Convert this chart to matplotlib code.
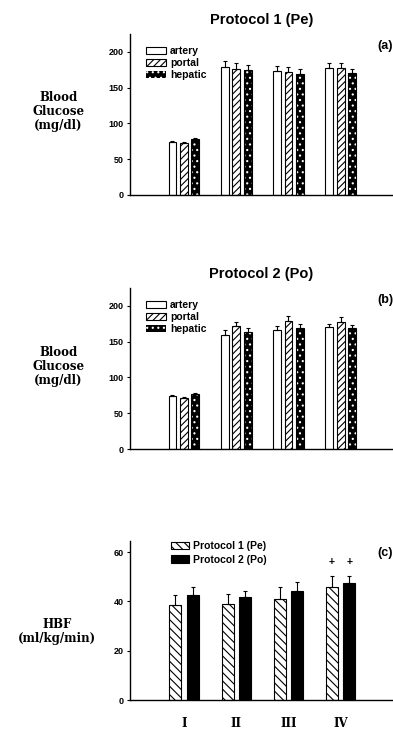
import matplotlib
matplotlib.use("Agg")
import matplotlib.pyplot as plt
import matplotlib.patches as mpatches
import numpy as np

# blood glucose, protocol 1 (Pe)
groups = [1, 2, 3, 4]
pe_artery = [74, 179, 173, 177]
pe_artery_err = [2, 8, 7, 7]
pe_portal = [73, 176, 172, 177]
pe_portal_err = [1, 8, 7, 7]
pe_hepatic = [78, 175, 169, 170]
pe_hepatic_err = [2, 7, 7, 6]

# blood glucose, protocol 2 (Po)
po_artery = [74, 159, 166, 170]
po_artery_err = [1, 7, 6, 5]
po_portal = [72, 172, 179, 177]
po_portal_err = [1, 6, 7, 7]
po_hepatic = [77, 163, 169, 169]
po_hepatic_err = [1, 6, 6, 4]

# hepatic blood flow
period_labels = ["I", "II", "III", "IV"]
hbf_pe = [38.6, 38.9, 41.1, 45.8]
hbf_pe_err = [4.1, 4.2, 4.6, 4.3]
hbf_po = [42.7, 41.6, 44.4, 47.4]
hbf_po_err = [3.0, 2.8, 3.3, 3.0]
plus_groups = [4]
plus_y = 55.8

sans = "Liberation Sans"
serif = "DejaVu Serif"
plt.rcParams["hatch.linewidth"] = 0.8

fig = plt.figure(figsize=(3.93, 7.33), dpi=100)
ax_a = fig.add_axes([0.331, 0.734, 0.669, 0.2197])
ax_b = fig.add_axes([0.331, 0.3874, 0.669, 0.2197])
ax_c = fig.add_axes([0.331, 0.045, 0.669, 0.217])

w = 0.15
step = 0.22
ekw = dict(lw=0.8, capsize=1.5, capthick=0.8, ecolor="black")


def glucose_panel(ax, art, art_e, por, por_e, hep, hep_e, title, tag, ylab_y):
    x = np.array(groups, dtype=float)
    ax.bar(x - step, art, w, color="white", edgecolor="black", lw=0.8)
    ax.errorbar(x - step, art, yerr=[np.zeros(4), art_e], fmt="none", **ekw)
    ax.bar(x, por, w, color="white", edgecolor="black", lw=0.8,
           hatch="/////")
    ax.errorbar(x, por, yerr=[np.zeros(4), por_e], fmt="none", **ekw)
    # dark dotted fill: white dots on black, then black outline on top
    ax.bar(x + step, hep, w, color="black", edgecolor="white", lw=0,
           hatch="...")
    ax.bar(x + step, hep, w, fill=False, edgecolor="black", lw=0.8)
    ax.errorbar(x + step, hep, yerr=[np.zeros(4), hep_e], fmt="none", **ekw)

    h1 = mpatches.Patch(facecolor="white", edgecolor="black", lw=0.8)
    h2 = mpatches.Patch(facecolor="white", edgecolor="black", lw=0.8,
                        hatch="/////")
    h3 = mpatches.Patch(facecolor="black", edgecolor="white", lw=0.0,
                        hatch="...")
    ax.legend([h1, h2, h3], ["artery", "portal", "hepatic"],
              loc="upper left", bbox_to_anchor=(0.06, 0.925), frameon=False,
              prop={"family": sans, "weight": "bold", "size": 7.5},
              handlelength=1.9, handleheight=0.7, labelspacing=0.2,
              handletextpad=0.4, borderaxespad=0, borderpad=0)
    ax.set_ylim(0, 225)
    ax.set_yticks([0, 50, 100, 150, 200])
    ax.set_xlim(-0.03, 5.0)
    ax.set_xticks([])
    ax.set_title(title, family=sans, weight="bold", fontsize=10.5, pad=7)
    ax.text(0.94, 0.925, tag, transform=ax.transAxes, family=sans,
            weight="bold", fontsize=9, ha="left", va="center")
    ax.text(-0.272, ylab_y, "Blood\nGlucose\n(mg/dl)", transform=ax.transAxes,
            family=serif, weight="bold", fontsize=8.5, ha="center",
            va="center", linespacing=1.1)


glucose_panel(ax_a, pe_artery, pe_artery_err, pe_portal, pe_portal_err,
              pe_hepatic, pe_hepatic_err, "Protocol 1 (Pe)", "(a)", 0.52)
glucose_panel(ax_b, po_artery, po_artery_err, po_portal, po_portal_err,
              po_hepatic, po_hepatic_err, "Protocol 2 (Po)", "(b)", 0.515)

# panel c
xc = np.array(groups, dtype=float)
wc = 0.23
off = 0.165
ax_c.bar(xc - off, hbf_pe, wc, color="white", edgecolor="black", lw=0.8,
         hatch="\\\\\\\\", label="Protocol 1 (Pe)")
ax_c.errorbar(xc - off, hbf_pe, yerr=[np.zeros(4), hbf_pe_err], fmt="none",
              **ekw)
ax_c.bar(xc + off, hbf_po, wc, color="black", edgecolor="black", lw=0.8,
         label="Protocol 2 (Po)")
ax_c.errorbar(xc + off, hbf_po, yerr=[np.zeros(4), hbf_po_err], fmt="none",
              **ekw)
for g in plus_groups:
    ax_c.text(g - off, plus_y, "+", ha="center", va="center",
              family=sans, weight="bold", fontsize=7.5)
    ax_c.text(g + off, plus_y, "+", ha="center", va="center",
              family=sans, weight="bold", fontsize=7.5)
ax_c.legend(loc="upper left", bbox_to_anchor=(0.155, 1.0), frameon=False,
            prop={"family": sans, "weight": "bold", "size": 7.5},
            handlelength=1.7, handleheight=0.7, labelspacing=0.35,
            handletextpad=0.4, borderaxespad=0, borderpad=0)
ax_c.set_ylim(0, 64.5)
ax_c.set_yticks([0, 20, 40, 60])
ax_c.set_xlim(-0.03, 5.0)
ax_c.set_xticks(groups)
ax_c.set_xticklabels(period_labels, family=serif, weight="bold", fontsize=8.5)
ax_c.text(0.94, 0.925, "(c)", transform=ax_c.transAxes, family=sans,
          weight="bold", fontsize=9, ha="left", va="center")
ax_c.text(-0.278, 0.43, "HBF\n(ml/kg/min)", transform=ax_c.transAxes,
          family=serif, weight="bold", fontsize=8.5, ha="center",
          va="center", linespacing=1.1)

for ax in (ax_a, ax_b, ax_c):
    ax.spines["top"].set_visible(False)
    ax.spines["right"].set_visible(False)
    ax.spines["left"].set_linewidth(1.0)
    ax.spines["bottom"].set_linewidth(1.0)
    ax.tick_params(axis="y", length=2.5, width=0.8, pad=2, labelsize=6.5)
    for lab in ax.get_yticklabels():
        lab.set_family(sans)
        lab.set_weight("bold")
    ax.tick_params(axis="x", length=0)
ax_c.tick_params(axis="x", length=0, pad=12)

fig.savefig("out.png", dpi=100)
